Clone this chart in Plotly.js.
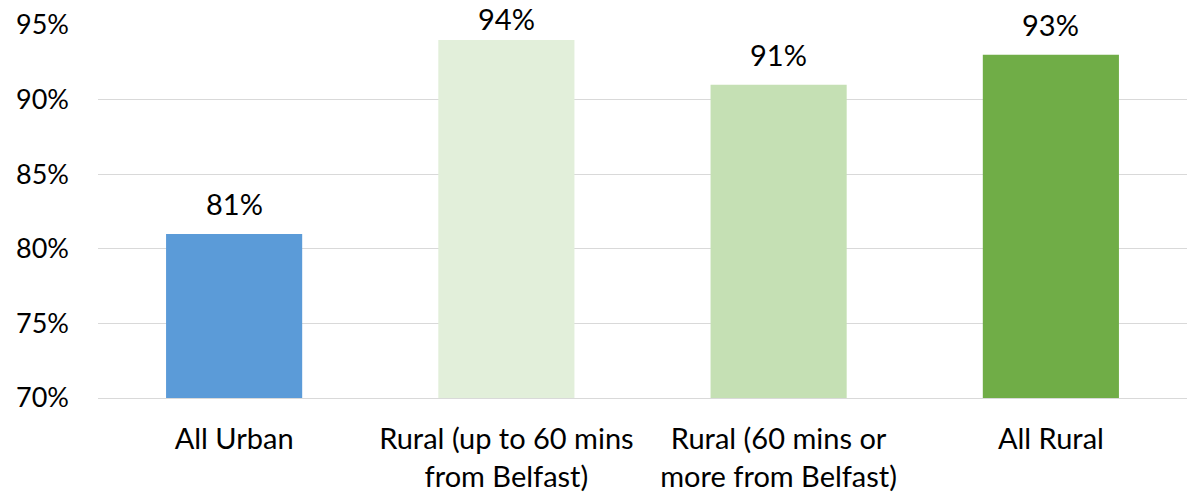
<!DOCTYPE html>
<html>
<head>
<meta charset="utf-8">
<script src="https://cdn.plot.ly/plotly-3.0.1.min.js"></script>
<style>html,body{margin:0;padding:0;background:#fff;}#chart{width:1187px;height:494px;}</style>
</head>
<body>
<div id="chart"></div>
<script>
const categories = ["All Urban", "Rural (up to 60 mins<br>from Belfast)", "Rural (60 mins or<br>more from Belfast)", "All Rural"];
const values = [81, 94, 91, 93];
const barColors = ["#5b9bd8", "#e2efda", "#c5e0b4", "#70ad47"];
const yTicks = [70, 75, 80, 85, 90, 95];

const FONT = "Lato, 'Open Sans', sans-serif";
const trace = {
  type: "bar",
  x: categories,
  y: values,
  marker: {color: barColors, line: {width: 0}},
  cliponaxis: false,
  hoverinfo: "skip"
};
const maxV = Math.max(...values);
const annotations = categories.map((c, i) => ({
  x: c, y: values[i], xref: "x", yref: "y",
  text: values[i] + "%", showarrow: false,
  yanchor: "bottom", yshift: values[i] === maxV ? 2 : 11,
  font: {family: FONT, size: 29, color: "#000"}
}));
const layout = {
  width: 1187, height: 494,
  margin: {l: 98, r: 0, t: 25, b: 96},
  paper_bgcolor: "#fff", plot_bgcolor: "#fff",
  showlegend: false,
  bargap: 0.5,
  font: {family: FONT, size: 26, color: "#000"},
  annotations: annotations,
  xaxis: {
    type: "category",
    showgrid: false, zeroline: false,
    showline: true, linecolor: "#d9d9d9", linewidth: 1,
    ticks: "", ticklabelstandoff: 15,
    tickfont: {family: FONT, size: 29, color: "#000"}
  },
  yaxis: {
    range: [70, 95], tickvals: yTicks, ticktext: yTicks.map(v => v + "%"),
    showgrid: true, gridcolor: "#d9d9d9", gridwidth: 1,
    zeroline: false, showline: false, ticks: "",
    ticklabelstandoff: 28,
    tickfont: {family: FONT, size: 27, color: "#000"}
  }
};
Plotly.newPlot("chart", [trace], layout, {displayModeBar: false, staticPlot: true});
</script>
</body>
</html>
